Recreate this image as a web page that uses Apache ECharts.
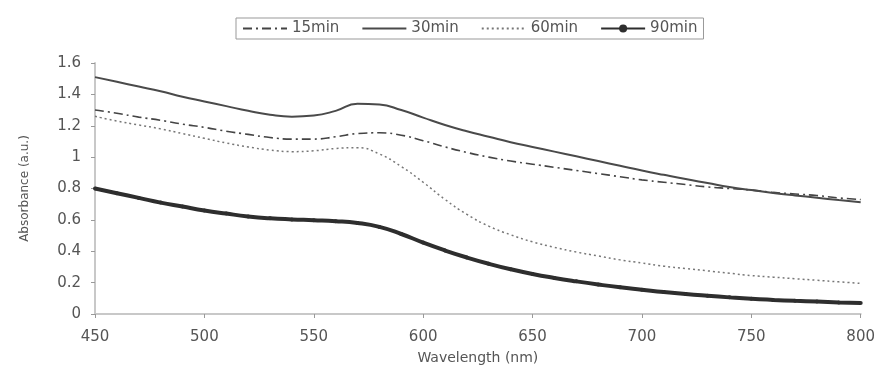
<!DOCTYPE html>
<html lang="en">
<head>
    <meta charset="UTF-8">
    <title>Absorbance</title>
    <script src="https://cdn.jsdelivr.net/npm/echarts@6/dist/echarts.min.js"></script>
    <style>
        html, body { margin: 0; padding: 0; background: #fff; }
        #chart { width: 878px; height: 371px; }
    </style>
</head>
<body>
<div id="chart"></div>
<script type="text/javascript">
    // 数据
    var wavelength = [450, 460, 470, 480, 490, 500, 510, 520, 530, 540, 550, 560, 570, 580, 590, 600, 610, 620,
        630, 640, 650, 660, 670, 680, 690, 700, 710, 720, 730, 740, 750, 760, 770, 780, 790, 800];
    var min15 = [1.30, 1.28, 1.255, 1.235, 1.21, 1.19, 1.165, 1.145, 1.125, 1.115, 1.115, 1.13, 1.15, 1.155, 1.14, 1.105,
        1.065, 1.03, 1.0, 0.975, 0.955, 0.935, 0.915, 0.895, 0.875, 0.855, 0.84, 0.825, 0.81, 0.80, 0.79, 0.775,
        0.765, 0.755, 0.74, 0.73];
    var min30 = [1.51, 1.48, 1.45, 1.42, 1.385, 1.355, 1.325, 1.295, 1.27, 1.258, 1.265, 1.295, 1.34, 1.335, 1.30, 1.252,
        1.205, 1.165, 1.13, 1.095, 1.065, 1.035, 1.005, 0.975, 0.945, 0.915, 0.887, 0.86, 0.835, 0.81, 0.79, 0.772,
        0.756, 0.741, 0.726, 0.712];
    var min60 = [1.26, 1.23, 1.205, 1.18, 1.15, 1.12, 1.09, 1.065, 1.045, 1.035, 1.04, 1.055, 1.06, 1.02, 0.94, 0.84,
        0.73, 0.635, 0.56, 0.505, 0.46, 0.425, 0.395, 0.37, 0.345, 0.325, 0.305, 0.29, 0.275, 0.26, 0.245, 0.235,
        0.225, 0.215, 0.205, 0.195];
    var min90 = [0.80, 0.77, 0.74, 0.71, 0.685, 0.66, 0.64, 0.622, 0.61, 0.603, 0.598, 0.592, 0.58, 0.555, 0.51, 0.455,
        0.405, 0.36, 0.32, 0.285, 0.255, 0.23, 0.208, 0.188, 0.17, 0.155, 0.14, 0.127, 0.116, 0.106, 0.097, 0.09,
        0.084, 0.079, 0.074, 0.07];
    var seriesNames = ['15min', '30min', '60min', '90min'];

    function pairs(ys) {
        var out = [];
        for (var i = 0; i < wavelength.length; i++) {
            out.push([wavelength[i], ys[i]]);
        }
        return out;
    }

    var chart = echarts.init(document.getElementById('chart'));
    var axisColor = '#c8c8c8';
    var textColor = '#555';
    var font = 'DejaVu Sans, Verdana, sans-serif';

    // 图例：前三个只画线，不画点
    var legendData = seriesNames.map(function (n, i) {
        return i < 3 ? { name: n, itemStyle: { opacity: 0 } } : { name: n };
    });

    var option = {
        animation: false,
        textStyle: { fontFamily: font },
        grid: { left: 95, right: 16, top: 63, bottom: 57 },
        legend: {
            data: legendData,
            top: 18,
            left: 236,
            itemWidth: 44,
            itemHeight: 10,
            itemGap: 22,
            padding: [3, 6, 3, 6],
            borderColor: '#999',
            borderWidth: 1,
            textStyle: { color: '#555', fontSize: 15, fontFamily: font }
        },
        xAxis: {
            type: 'value',
            min: 450,
            max: 800,
            interval: 50,
            name: 'Wavelength (nm)',
            nameLocation: 'middle',
            nameGap: 37,
            nameTextStyle: { color: textColor, fontSize: 14 },
            axisLine: { lineStyle: { color: axisColor, width: 2 } },
            axisTick: { inside: false, length: 4, lineStyle: { color: '#999' } },
            axisLabel: { color: textColor, fontSize: 15, margin: 16 },
            splitLine: { show: false }
        },
        yAxis: {
            type: 'value',
            min: 0,
            max: 1.6,
            interval: 0.2,
            name: 'Absorbance (a.u.)',
            nameLocation: 'middle',
            nameGap: 64,
            nameTextStyle: { color: textColor, fontSize: 12 },
            axisLine: { show: true, lineStyle: { color: axisColor, width: 2 } },
            axisTick: { show: true, length: 4, lineStyle: { color: '#999' } },
            axisLabel: { color: textColor, fontSize: 15, margin: 14 },
            splitLine: { show: false }
        },
        series: [
            {
                name: '15min',
                type: 'line',
                smooth: 0.5,
                symbol: 'none',
                data: pairs(min15),
                lineStyle: { color: '#444', width: 1.6, type: [9, 4, 2, 4] },
                itemStyle: { color: '#444' }
            },
            {
                name: '30min',
                type: 'line',
                smooth: 0.5,
                symbol: 'none',
                data: pairs(min30),
                lineStyle: { color: '#4a4a4a', width: 2 },
                itemStyle: { color: '#4a4a4a' }
            },
            {
                name: '60min',
                type: 'line',
                smooth: 0.5,
                symbol: 'none',
                data: pairs(min60),
                lineStyle: { color: '#777', width: 1.5, type: [2, 3] },
                itemStyle: { color: '#777' }
            },
            {
                name: '90min',
                type: 'line',
                smooth: 0.5,
                symbol: 'circle',
                symbolSize: 4,
                data: pairs(min90),
                lineStyle: { color: '#2e2e2e', width: 4 },
                itemStyle: { color: '#2e2e2e' }
            }
        ]
    };
    chart.setOption(option);
</script>
</body>
</html>
